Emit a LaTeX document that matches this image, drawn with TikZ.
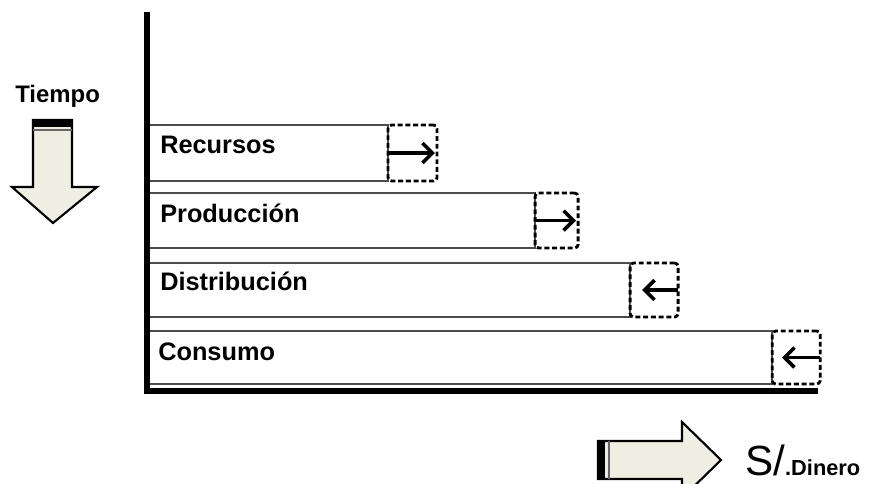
\documentclass[tikz,border=0pt]{standalone}
\usepackage{fontspec}
\setmainfont{Liberation Sans}
\usetikzlibrary{arrows.meta}
\definecolor{crema}{HTML}{EEEEE3}
\tikzset{
  barra/.style={draw=black!70,line width=1pt,rectangle,inner sep=0pt,outer sep=0pt,anchor=north west,minimum height=#1},
  caja/.style={draw,dashed,dash pattern=on 3.5pt off 2pt,line width=2pt,rounded corners=2.5pt,rectangle,inner sep=0pt,outer sep=0pt,anchor=north west,minimum height=#1},
  rotulo/.style={anchor=base west,inner sep=0pt,font=\bfseries\fontsize{18}{20}\selectfont},
  flecha/.style={line width=2.6pt,-{Straight Barb[length=7pt,width=14pt,line width=2.6pt]}},
  bloque/.style={draw,line width=1.5pt,fill=crema,line join=miter}
}
\begin{document}
\begin{tikzpicture}[x=0.025cm,y=-0.025cm]
        \useasboundingbox (0,0) rectangle (881,483);
        \clip (0,0) rectangle (881,483);
        %% Bars
        \node[barra=1.4cm,minimum width=6cm] (rec) at (148,125) {};
        \node[barra=1.375cm,minimum width=9.675cm] (pro) at (148,193) {};
        \node[barra=1.35cm,minimum width=12.05cm] (dis) at (148,263) {};
        \node[barra=1.325cm,minimum width=15.6cm] (con) at (148,331) {};
        %% Dashed boxes
        \node[caja=1.4cm,minimum width=1.225cm] (recbox) at (rec.north east) {};
        \node[caja=1.375cm,minimum width=1.075cm] (probox) at (pro.north east) {};
        \node[caja=1.35cm,minimum width=1.2cm] (disbox) at (dis.north east) {};
        \node[caja=1.325cm,minimum width=1.2cm] (conbox) at (con.north east) {};
        %% Arrows in boxes
        \draw[flecha,shorten >=1.5pt] (recbox.west) -- (recbox.east);
        \draw[flecha,shorten >=1.5pt] (probox.west) -- (probox.east);
        \draw[flecha,shorten >=8.5pt] (disbox.east) -- (disbox.west);
        \draw[flecha,shorten >=7pt] (conbox.east) -- (conbox.west);
        %% Labels
        \node[rotulo] (lrec) at (160,153) {Recursos};
        \node[rotulo] (lpro) at (160,222) {Producción};
        \node[rotulo] (ldis) at (160,290) {Distribución};
        \node[rotulo] (lcon) at (158,360) {Consumo};
        %% Axes
        \draw[line width=4pt] (147,12) -- (147,391) -- (818,391);
        %% Time
        \node[anchor=base west,inner sep=0pt,font=\bfseries\fontsize{17}{19}\selectfont] (tiempo) at (15,102) {Tiempo};
        \draw[bloque] (33,120) -- (72,120) -- (72,187) -- (97,187) -- (53,223) -- (12,187) -- (33,187) -- cycle;
        \fill (33,120) rectangle (72,127);
        \draw[black!60,line width=0.8pt] (33,130) -- (72,130);
        %% Money
        \draw[bloque] (598,441) -- (682,441) -- (682,422) -- (721,460) -- (682,498) -- (682,479) -- (598,479) -- cycle;
        \fill (598,441) rectangle (605,479);
        \draw[black!60,line width=1pt] (609,441) -- (609,479);
        \node[anchor=base west,inner sep=0pt] (dinero) at (745,475) {{\fontsize{30}{30}\selectfont S/}{\bfseries\fontsize{15.5}{17}\selectfont .Dinero}};
    \end{tikzpicture}
\end{document}
